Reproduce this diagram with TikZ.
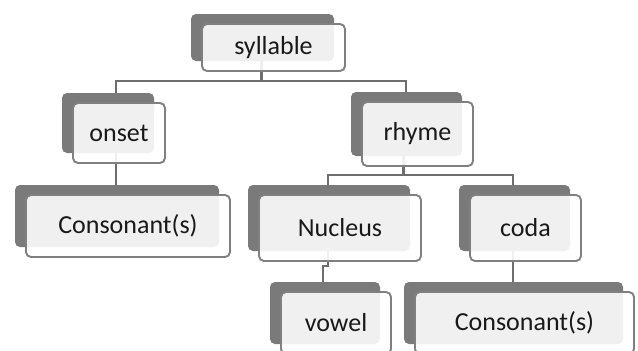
\documentclass[tikz,border=0pt]{standalone}
\usepackage{fontspec}
\setmainfont{Carlito}
\usetikzlibrary{shadows,backgrounds}
\definecolor{backgray}{HTML}{7A7A7A}
\definecolor{edgegray}{HTML}{808080}
\definecolor{linegray}{HTML}{6E6E6E}

\begin{document}
\begin{tikzpicture}[x=1pt,y=-1pt,
    box/.style = {draw=edgegray, line width=1.9pt, rounded corners=5pt,
        fill=white, fill opacity=0.89, text opacity=1, text=black!90,
        font=\fontsize{26}{30}\selectfont, inner sep=0pt,
        general shadow={fill=backgray, fill opacity=1, draw=none,
            shadow xshift=-11pt, shadow yshift=10pt}},
    link/.style = {draw=linegray, line width=2.2pt}]
                \useasboundingbox (0,0) rectangle (638,351);
                \clip (0,0) rectangle (638,351);

                \node[box, minimum width=143pt, minimum height=47pt](syl) at (273.5,47.5){syllable};
                \node[box, minimum width=92pt, minimum height=60pt](ons) at (119,133){onset};
                \node[box, minimum width=111pt, minimum height=64pt](rhy) at (417.5,134){rhyme};
                \node[box, minimum width=204pt, minimum height=62pt](con1) at (128,226){Consonant(s)};
                \node[box, minimum width=162pt, minimum height=66pt](nuc) at (340,228){Nucleus};
                \node[box, minimum width=111pt, minimum height=66pt](cod) at (525.5,228){coda};
                \node[box, minimum width=110pt, minimum height=62pt](vow) at (336,323){vowel};
                \node[box, minimum width=219pt, minimum height=62pt](con2) at (524.5,323){Consonant(s)};

                \begin{scope}[on background layer]
                \draw[link] ([xshift=-12pt]syl.center) -- ++(0,33.5) coordinate (s1);
                \draw[link] (s1) -| ([xshift=-3pt]ons.center);
                \draw[link] (s1) -| ([xshift=-11.5pt]rhy.center);
                \draw[link] ([xshift=-3pt]ons.center) -- ([xshift=-12pt]con1.center);
                \draw[link] ([xshift=-14pt]rhy.center) -- ++(0,41) coordinate (r1);
                \draw[link] (r1) -| ([xshift=-12pt]nuc.center);
                \draw[link] (r1) -| ([xshift=-12.5pt]cod.center);
                \draw[link] ([xshift=-12pt]nuc.center) -- ++(0,38) -| ([xshift=-13pt]vow.center);
                \draw[link] ([xshift=-12.5pt]cod.center) -- ([xshift=-11.5pt]con2.center);
                \end{scope}
\end{tikzpicture}
\end{document}
